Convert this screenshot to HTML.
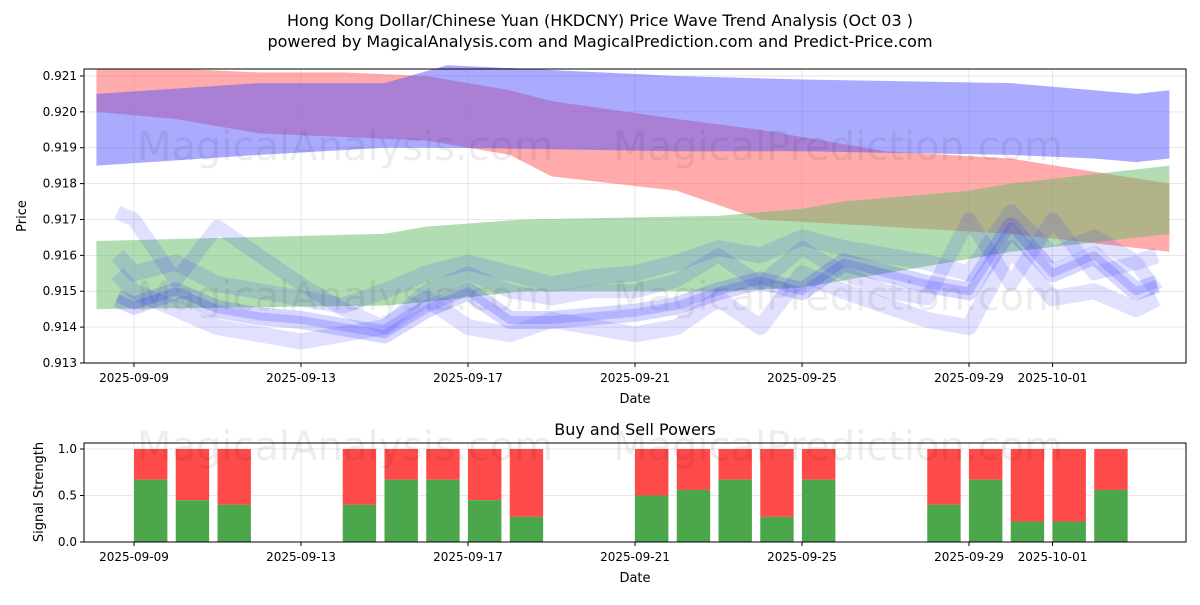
<!DOCTYPE html>
<html><head><meta charset="utf-8"><style>
body{margin:0;background:#fff;font-family:"Liberation Sans","DejaVu Sans",sans-serif}
svg text{font-family:"DejaVu Sans","Liberation Sans",sans-serif}
</style></head><body>
<svg id="c" width="1200" height="600" xmlns="http://www.w3.org/2000/svg">
<text x="600" y="26" text-anchor="middle" font-size="16">Hong Kong Dollar/Chinese Yuan (HKDCNY) Price Wave Trend Analysis (Oct 03 )</text>
<text x="600" y="47" text-anchor="middle" font-size="16">powered by MagicalAnalysis.com and MagicalPrediction.com and Predict-Price.com</text>
<g id="top"></g><g id="bot"></g>
</svg>
<script>
// ---- data ----
const tickDates=["2025-09-09","2025-09-13","2025-09-17","2025-09-21","2025-09-25","2025-09-29","2025-10-01"];
const yTicks=[0.913,0.914,0.915,0.916,0.917,0.918,0.919,0.920,0.921];
const redDays=[-0.9,1,3,5,7,9,10,13,15,18,21,24.8];
const redHi=[0.9212,0.9212,0.9211,0.9211,0.9210,0.9206,0.9203,0.9198,0.9195,0.9189,0.9187,0.9180];
const redLo=[0.9200,0.9198,0.9194,0.9193,0.9192,0.9188,0.9182,0.9178,0.9170,0.9168,0.9166,0.9161];
const blueDays=[-0.9,3,6,7.5,13,16,21,23,24,24.8];
const blueHi=[0.9205,0.9208,0.9208,0.9213,0.9210,0.9209,0.9208,0.9206,0.9205,0.9206];
const blueLo=[0.9185,0.9188,0.9190,0.9190,0.9189,0.9189,0.9188,0.9187,0.9186,0.9187];
const greenDays=[-0.9,6,7,9.3,14,16,17,20,21,24.8];
const greenHi=[0.9164,0.9166,0.9168,0.9170,0.9171,0.9173,0.9175,0.9178,0.9180,0.9185];
const greenLo=[0.9145,0.9146,0.9147,0.9150,0.9150,0.9151,0.9153,0.9159,0.9161,0.9166];
const waveDays=[-0.4,0,1,2,3,4,5,6,7,8,9,10,11,12,13,14,15,16,17,18,19,20,21,22,23,24,24.5];
const waveA=[0.9172,0.9170,0.9153,0.9168,0.9160,0.9152,0.9145,0.9140,0.9150,0.9155,0.9150,0.9148,0.9150,0.9150,0.9153,0.9160,0.9152,0.9162,0.9155,0.9150,0.9148,0.9170,0.9152,0.9170,0.9155,0.9158,0.9150];
const waveB=[0.9148,0.9146,0.9150,0.9145,0.9143,0.9142,0.9140,0.9138,0.9145,0.9150,0.9142,0.9142,0.9143,0.9144,0.9146,0.9150,0.9153,0.9150,0.9158,0.9155,0.9152,0.9150,0.9168,0.9155,0.9160,0.9150,0.9152];
const waveC=[0.9155,0.9150,0.9145,0.9140,0.9138,0.9136,0.9138,0.9140,0.9148,0.9140,0.9138,0.9142,0.9140,0.9138,0.9140,0.9148,0.9140,0.9155,0.9150,0.9146,0.9142,0.9140,0.9162,0.9148,0.9150,0.9145,0.9148];
const waveD=[0.9160,0.9155,0.9158,0.9152,0.9150,0.9148,0.9146,0.9150,0.9155,0.9158,0.9155,0.9152,0.9154,0.9155,0.9158,0.9162,0.9160,0.9165,0.9162,0.9160,0.9158,0.9155,0.9172,0.9160,0.9165,0.9158,0.9160];
const barDays=[0,1,2,5,6,7,8,9,12,13,14,15,16,19,20,21,22,23];
const buyVals=[0.67,0.45,0.4,0.4,0.67,0.67,0.45,0.27,0.5,0.56,0.67,0.27,0.67,0.4,0.67,0.22,0.22,0.56];
const bTicks=[0,0.5,1.0];
// ---- scales ----
const NS='http://www.w3.org/2000/svg';
const dayOf=s=>(Date.UTC(+s.slice(0,4),+s.slice(5,7)-1,+s.slice(8,10))-Date.UTC(2025,8,9))/864e5;
const X=d=>134+d*41.75;
const TL=84,TR=1186,TT=69,TB=363;
const Y=v=>363-(v-0.913)*35880;
const BT=443,BB=542,BY=v=>542-v*93;
function mk(p,tag,a,name){const e=document.createElementNS(NS,tag);for(const k in a)e.setAttribute(k,a[k]);


p.appendChild(e);return e;}
const topG=document.getElementById('top'),bot=document.getElementById('bot');
yTicks.forEach(v=>{mk(topG,'line',{x1:TL,x2:TR,y1:Y(v),y2:Y(v),stroke:'#e0e0e0','stroke-width':0.8},'y-gridline');
mk(topG,'line',{x1:TL-4,x2:TL,y1:Y(v),y2:Y(v),stroke:'#000'},'y-tick');
const t=mk(topG,'text',{x:TL-7,y:Y(v)+4,'text-anchor':'end','font-size':12},'y-tick-label');t.textContent=v.toFixed(3);});
tickDates.forEach(s=>{const x=X(dayOf(s));mk(topG,'line',{x1:x,x2:x,y1:TT,y2:TB,stroke:'#e0e0e0','stroke-width':0.8},'x-gridline');
mk(topG,'line',{x1:x,x2:x,y1:TB,y2:TB+4,stroke:'#000'},'x-tick');
const t=mk(topG,'text',{x:x,y:TB+19,'text-anchor':'middle','font-size':12},'x-tick-label');t.textContent=s;});
function band(days,hi,lo,fill,op,name){let p='';days.forEach((d,i)=>p+=(i?'L':'M')+X(d)+','+Y(hi[i]));
for(let i=days.length-1;i>=0;i--)p+='L'+X(days[i])+','+Y(lo[i]);
mk(topG,'path',{d:p+'Z',fill:fill,'fill-opacity':op},name);}
function wave(days,vals,w,op,name){let p='';days.forEach((d,i)=>p+=(i?'L':'M')+X(d)+','+Y(vals[i]));
mk(topG,'path',{d:p,fill:'none',stroke:'#3333ff','stroke-opacity':op,'stroke-width':w,'stroke-linejoin':'round'},name);}
band(redDays,redHi,redLo,'#ff6666',0.55,'red-band');
band(blueDays,blueHi,blueLo,'#5555ff',0.5,'blue-band');
band(greenDays,greenHi,greenLo,'#66bb66',0.5,'green-band');
wave(waveDays,waveA,14,0.15,'wave-a');
wave(waveDays,waveD,16,0.15,'wave-d');
wave(waveDays,waveB,18,0.2,'wave-b');
wave(waveDays,waveC,16,0.15,'wave-c');
wave(waveDays,waveB,8,0.2,'wave-b-core');
const w1=mk(topG,'text',{x:345,y:160,'text-anchor':'middle','font-size':40,fill:'#000','fill-opacity':0.07},'watermark');w1.textContent='MagicalAnalysis.com';
const w2=mk(topG,'text',{x:838,y:160,'text-anchor':'middle','font-size':40,fill:'#000','fill-opacity':0.07},'watermark');w2.textContent='MagicalPrediction.com';
const w3=mk(topG,'text',{x:345,y:310,'text-anchor':'middle','font-size':40,fill:'#000','fill-opacity':0.07},'watermark');w3.textContent='MagicalAnalysis.com';
const w4=mk(topG,'text',{x:838,y:310,'text-anchor':'middle','font-size':40,fill:'#000','fill-opacity':0.07},'watermark');w4.textContent='MagicalPrediction.com';
mk(topG,'rect',{x:TL,y:TT,width:TR-TL,height:TB-TT,fill:'none',stroke:'#000'},'plot-frame');
let t=mk(topG,'text',{x:635,y:403,'text-anchor':'middle','font-size':13},'x-axis-title');t.textContent='Date';
t=mk(topG,'text',{x:26,y:216,'text-anchor':'middle','font-size':13,transform:'rotate(-90 26 216)'},'y-axis-title');t.textContent='Price';
t=mk(bot,'text',{x:635,y:435,'text-anchor':'middle','font-size':16},'subplot-title');t.textContent='Buy and Sell Powers';
bTicks.forEach(v=>{mk(bot,'line',{x1:TL,x2:TR,y1:BY(v),y2:BY(v),stroke:'#e0e0e0','stroke-width':0.8},'y-gridline');
mk(bot,'line',{x1:TL-4,x2:TL,y1:BY(v),y2:BY(v),stroke:'#000'},'y-tick');
const q=mk(bot,'text',{x:TL-7,y:BY(v)+4,'text-anchor':'end','font-size':12},'y-tick-label');q.textContent=v.toFixed(1);});
tickDates.forEach(s=>{const x=X(dayOf(s));mk(bot,'line',{x1:x,x2:x,y1:BT,y2:BB,stroke:'#e0e0e0','stroke-width':0.8},'x-gridline');
mk(bot,'line',{x1:x,x2:x,y1:BB,y2:BB+4,stroke:'#000'},'x-tick');
const q=mk(bot,'text',{x:x,y:BB+19,'text-anchor':'middle','font-size':12},'x-tick-label');q.textContent=s;});
const bw=0.8*41.75;
barDays.forEach((d,i)=>{const x=X(d+0.4)-bw/2;const b=buyVals[i];
mk(bot,'rect',{x:x,y:BY(1),width:bw,height:BY(b)-BY(1),fill:'#ff4a4a'},'sell-bar');
mk(bot,'rect',{x:x,y:BY(b),width:bw,height:BY(0)-BY(b),fill:'#4ca64c'},'buy-bar');});
const w5=mk(bot,'text',{x:345,y:460,'text-anchor':'middle','font-size':40,fill:'#000','fill-opacity':0.07},'watermark');w5.textContent='MagicalAnalysis.com';
const w6=mk(bot,'text',{x:838,y:460,'text-anchor':'middle','font-size':40,fill:'#000','fill-opacity':0.07},'watermark');w6.textContent='MagicalPrediction.com';
mk(bot,'rect',{x:TL,y:BT,width:TR-TL,height:BB-BT,fill:'none',stroke:'#000'},'plot-frame');
t=mk(bot,'text',{x:635,y:582,'text-anchor':'middle','font-size':13},'x-axis-title');t.textContent='Date';
t=mk(bot,'text',{x:43,y:492,'text-anchor':'middle','font-size':13,transform:'rotate(-90 43 492)'},'y-axis-title');t.textContent='Signal Strength';
</script>
</body></html>
